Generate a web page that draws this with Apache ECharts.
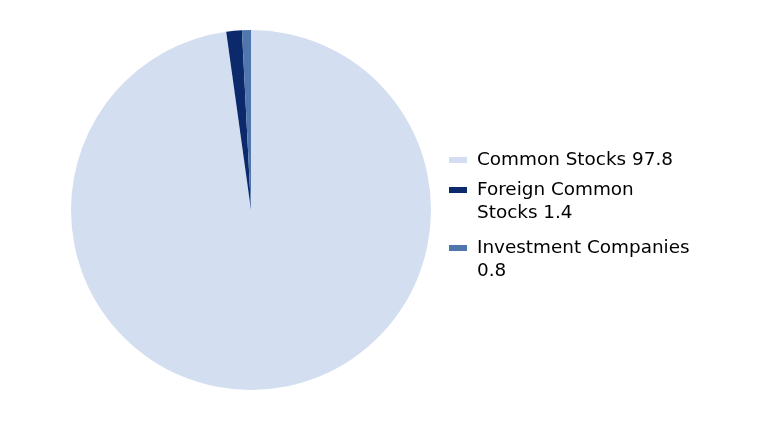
<!DOCTYPE html>
<html><head><meta charset="utf-8">
<script src="https://cdn.jsdelivr.net/npm/echarts@6/dist/echarts.min.js"></script>
<style>html,body{margin:0;padding:0;background:#fff}#c{width:768px;height:432px}</style>
</head><body><div id="c"></div>
<script>
const categories = ['Common Stocks', 'Foreign Common Stocks', 'Investment Companies'];
const values = [97.8, 1.4, 0.8];
const legendLabels = ['Common Stocks 97.8', '\nForeign Common\nStocks 1.4', '\nInvestment Companies\n0.8'];
const colors = ['#d3dff0', '#0c2a6b', '#4f77ad'];

const chart = echarts.init(document.getElementById('c'));
const legendTops = [148.5, 155.5, 213.5];
const legends = categories.map((name, i) => ({
  orient: 'vertical', left: 449, top: legendTops[i], padding: 0,
  data: [name], icon: 'rect', itemWidth: 18, itemHeight: 6,
  selectedMode: false,
  formatter: () => legendLabels[i],
  textStyle: { fontFamily: 'DejaVu Sans', fontSize: 18.4, color: '#000', lineHeight: 23, padding: [0,0,0,5] }
}));
chart.setOption({
  animation: false,
  color: colors,
  legend: legends,
  series: [{
    type: 'pie', center: [251, 210], radius: 180, startAngle: 90, clockwise: true,
    label: { show: false }, labelLine: { show: false },
    itemStyle: { borderWidth: 0 },
    emphasis: { disabled: true },
    data: categories.map((n, i) => ({ name: n, value: values[i] }))
  }]
});
</script></body></html>
